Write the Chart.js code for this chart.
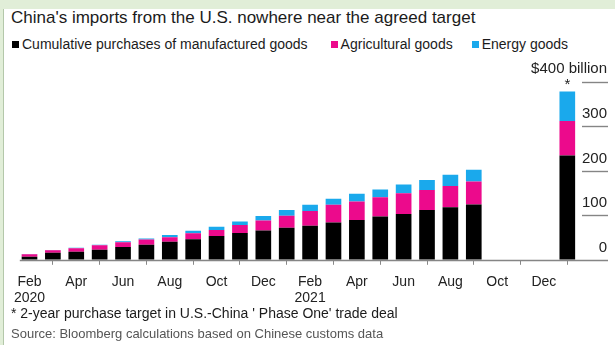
<!DOCTYPE html>
<html>
<head>
<meta charset="utf-8">
<title>China's imports from the U.S.</title>
<script src="https://cdn.jsdelivr.net/npm/chart.js@4.4.1/dist/chart.umd.min.js"></script>
<style>
  body { margin: 0; width: 615px; height: 345px; background: #e1eed8; overflow: hidden; position: relative;
         font-family: "Liberation Sans", Arial, sans-serif; color: #1b1b1b; }
  #frame { position: absolute; left: 3px; top: 9px; right: 0; bottom: 0; background: #fff; border-left: 1px solid #b4c8aa; }
  .txt { position: absolute; left: 11px; white-space: nowrap; }
  #title { top: 8px; font-size: 17px; line-height: 20px; }
  #legend { top: 35px; left: 12px; font-size: 14px; line-height: 18px; display: flex; }
  #legend .item { display: flex; align-items: center; margin-right: 19px; }
  #legend .item:first-child { margin-right: 23px; }
  #legend i { display: inline-block; width: 7px; height: 7px; margin-right: 3px; }
  #note { top: 305px; font-size: 14px; line-height: 16px; }
  #source { top: 326px; font-size: 13px; line-height: 16px; color: #555; }
  #chart { position: absolute; left: 4px; top: 56px; }
</style>
</head>
<body>
<div id="frame"></div>
<div id="title" class="txt">China's imports from the U.S. nowhere near the agreed target</div>
<div id="legend" class="txt"></div>
<canvas id="chart" width="611" height="264"></canvas>
<div id="note" class="txt">* 2-year purchase target in U.S.-China ' Phase One' trade deal</div>
<div id="source" class="txt">Source: Bloomberg calculations based on Chinese customs data</div>
<script>
// Months Feb 2020 - Jan 2022; the last slot holds the two-year target
const months = [['Feb', '2020'], 'Mar', 'Apr', 'May', 'Jun', 'Jul', 'Aug', 'Sep', 'Oct', 'Nov', 'Dec', 'Jan',
                ['Feb', '2021'], 'Mar', 'Apr', 'May', 'Jun', 'Jul', 'Aug', 'Sep', 'Oct', 'Nov', 'Dec', 'Jan'];

// Cumulative purchases, $ billion, Feb 2020 - Sep 2021
const manufactured = [7, 16, 18, 22.5, 28.5, 34, 40.5, 46, 53.5, 60, 66, 72, 76.5, 83.5, 89.5, 97, 103, 112, 118, 124];
const agricultural = [5.5, 5.5, 8, 10, 11, 11.5, 10, 13.5, 13.5, 18, 22, 27, 33, 40, 41.5, 43.5, 46.5, 45, 47.5, 52];
const energy = [0.5, 0.5, 1, 1.5, 2, 2.5, 5, 5.5, 7.5, 8, 10.5, 13, 14, 13.5, 17.5, 17.5, 19.5, 22.5, 25.5, 26.5];

// Phase One two-year target
const target = { manufactured: 234, agricultural: 78, energy: 66 };

const yTicks = [0, 100, 200, 300, 400];
const yUnit = '$400 billion';
const gap = [null, null, null];

const colors = { manufactured: '#000000', agricultural: '#ec0a8c', energy: '#1aa9ec' };

Chart.defaults.font.family = '"Liberation Sans", Arial, sans-serif';
Chart.defaults.color = '#222';

// short rules under the y labels, the baseline, the unit label and the target asterisk
const axisRules = {
  id: 'axisRules',
  afterDatasetsDraw(chart) {
    const { ctx, chartArea, scales: { y } } = chart;
    ctx.save();
    ctx.strokeStyle = '#858585';
    ctx.lineWidth = 1.4;
    yTicks.forEach(v => {
      const py = Math.round(y.getPixelForValue(v)) + 0.5;
      ctx.beginPath();
      ctx.moveTo(v === 0 ? chartArea.left + 2 : chartArea.right + 3, py);
      ctx.lineTo(y.right + 1, py);
      ctx.stroke();
    });
    ctx.fillStyle = '#222';
    ctx.font = '15px "Liberation Sans", Arial, sans-serif';
    ctx.textAlign = 'right';
    ctx.textBaseline = 'middle';
    ctx.fillText(yUnit, y.right, y.getPixelForValue(400) - 13);
    const bar = chart.getDatasetMeta(2).data[months.length - 1];
    ctx.textAlign = 'center';
    ctx.fillText('*', bar.x, bar.y - 7);
    ctx.restore();
  }
};

const chart = new Chart(document.getElementById('chart'), {
  type: 'bar',
  data: {
    labels: months,
    datasets: [
      {
        label: 'Cumulative purchases of manufactured goods',
        backgroundColor: colors.manufactured,
        data: manufactured.concat(gap, [target.manufactured])
      },
      {
        label: 'Agricultural goods',
        backgroundColor: colors.agricultural,
        data: agricultural.concat(gap, [target.agricultural])
      },
      {
        label: 'Energy goods',
        backgroundColor: colors.energy,
        data: energy.concat(gap, [target.energy])
      }
    ]
  },
  options: {
    responsive: false,
    animation: false,
    layout: { padding: { left: 13.8, right: 8, top: 25.7, bottom: 5 } },
    datasets: { bar: { barPercentage: 0.67, categoryPercentage: 1 } },
    plugins: {
      legend: { display: false },
      title: { display: false },
      tooltip: { enabled: false }
    },
    scales: {
      x: {
        stacked: true,
        border: { display: false },
        grid: { drawOnChartArea: false, drawTicks: true, tickLength: 5, color: '#888' },
        ticks: {
          autoSkip: false,
          maxRotation: 0,
          padding: 9,
          font: { size: 14, lineHeight: 1.15 },
          callback: function (value, index) {
            return index % 2 === 0 ? this.getLabelForValue(value) : null;
          }
        }
      },
      y: {
        stacked: true,
        position: 'right',
        min: 0,
        max: 400,
        border: { display: false },
        grid: { display: false },
        afterBuildTicks: scale => { scale.ticks = yTicks.map(v => ({ value: v })); },
        afterFit: scale => { scale.width = 28; },
        ticks: {
          crossAlign: 'far',
          labelOffset: -12,
          font: { size: 15 },
          callback: v => (v === 400 ? '' : v)
        }
      }
    }
  },
  plugins: [axisRules]
});

// legend built from the datasets
const legend = document.getElementById('legend');
chart.data.datasets.forEach(ds => {
  const item = document.createElement('span');
  item.className = 'item';
  const box = document.createElement('i');
  box.style.background = ds.backgroundColor;
  item.appendChild(box);
  item.appendChild(document.createTextNode(ds.label));
  legend.appendChild(item);
});
</script>
</body>
</html>
